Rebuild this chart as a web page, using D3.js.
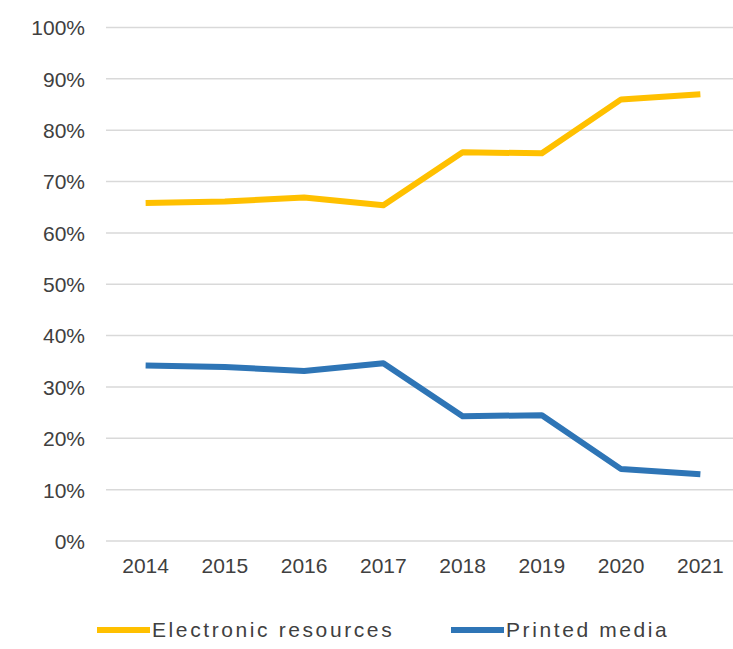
<!DOCTYPE html>
<html>
<head>
    <meta charset="utf-8">
    <script src="https://d3js.org/d3.v7.min.js"></script>
    <style>
        body { margin: 0; background: #fff; }
        text { font-family: "Liberation Sans", Arial, sans-serif; fill: #404040; }
    </style>
</head>
<body>
<script>

    var years = ['2014', '2015', '2016', '2017', '2018', '2019', '2020', '2021'];
    var electronic = [65.8, 66.1, 66.9, 65.4, 75.7, 75.5, 86.0, 87.0];
    var printed = [34.2, 33.9, 33.1, 34.6, 24.3, 24.5, 14.0, 13.0];
    var yTicks = [0, 10, 20, 30, 40, 50, 60, 70, 80, 90, 100];

    var series = [
        {name: 'Electronic resources', values: electronic, color: '#FFC000'},
        {name: 'Printed media', values: printed, color: '#2E75B6'}
    ];

    var width = 733;
    var height = 649;
    var plotLeft = 106, plotRight = 740, plotTop = 27.5, plotBottom = 541;

    var svg = d3.select('body').append('svg')
        .attr('width', width)
        .attr('height', height);

    var xScale = d3.scaleBand()
        .domain(years)
        .range([plotLeft, plotRight]);

    var yScale = d3.scaleLinear()
        .domain([0, 100])
        .range([plotBottom, plotTop]);

    // gridlines
    svg.append('g').selectAll('line').data(yTicks)
        .enter().append('line')
        .attr('x1', plotLeft)
        .attr('x2', plotRight)
        .attr('y1', function(d) { return yScale(d); })
        .attr('y2', function(d) { return yScale(d); })
        .attr('stroke', '#d9d9d9')
        .attr('stroke-width', 1.5);

    var yAxis = d3.axisLeft(yScale)
        .tickValues(yTicks)
        .tickSize(0)
        .tickPadding(21)
        .tickFormat(function(d) { return d + '%'; });

    var gY = svg.append('g')
        .attr('transform', 'translate(' + plotLeft + ',0)')
        .call(yAxis);
    gY.select('.domain').remove();
    gY.selectAll('text').style('font-size', '21px').attr('dy', '0.35em');

    var xAxis = d3.axisBottom(xScale)
        .tickSize(0)
        .tickPadding(17);

    var gX = svg.append('g')
        .attr('transform', 'translate(0,' + plotBottom + ')')
        .call(xAxis);
    gX.select('.domain').remove();
    gX.selectAll('text').style('font-size', '21px');

    var line = d3.line()
        .x(function(d, i) { return xScale(years[i]) + xScale.bandwidth() / 2; })
        .y(function(d) { return yScale(d); });

    svg.append('g').selectAll('path').data(series)
        .enter().append('path')
        .attr('d', function(d) { return line(d.values); })
        .attr('fill', 'none')
        .attr('stroke', function(d) { return d.color; })
        .attr('stroke-width', 6)
        .attr('stroke-linejoin', 'round');

    // legend
    var legendX = [97, 451];
    var legend = svg.append('g').selectAll('g').data(series)
        .enter().append('g')
        .attr('transform', function(d, i) { return 'translate(' + legendX[i] + ',630)'; });

    legend.append('line')
        .attr('x1', 0)
        .attr('x2', 53)
        .attr('stroke', function(d) { return d.color; })
        .attr('stroke-width', 6);

    legend.append('text')
        .attr('x', 55)
        .attr('dy', '0.35em')
        .style('font-size', '21px')
        .style('letter-spacing', '2.6px')
        .text(function(d) { return d.name; });

</script>
</body>
</html>
